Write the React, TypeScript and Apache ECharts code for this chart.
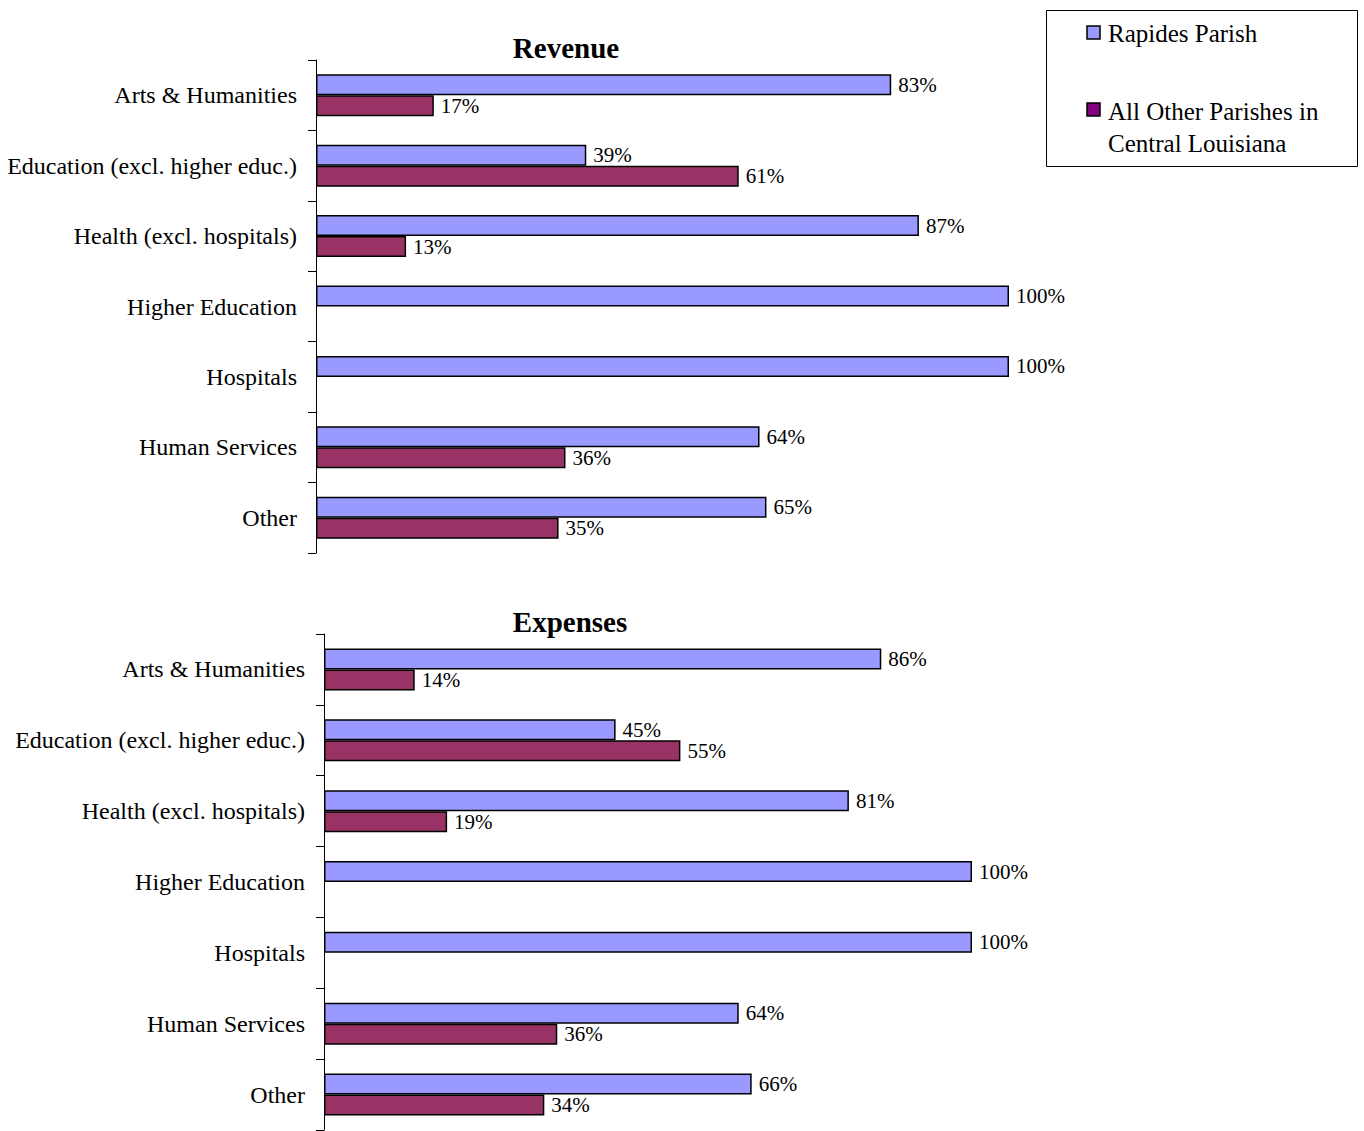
import React, { useEffect, useRef } from "react";
import * as echarts from "echarts";

const categories = [
  "Arts & Humanities",
  "Education (excl. higher educ.)",
  "Health (excl. hospitals)",
  "Higher Education",
  "Hospitals",
  "Human Services",
  "Other",
];
const revenueRapides = [83, 39, 87, 100, 100, 64, 65];
const revenueOther: (number | string)[] = [17, 61, 13, "-", "-", 36, 35];
const expensesRapides = [86, 45, 81, 100, 100, 64, 66];
const expensesOther: (number | string)[] = [14, 55, 19, "-", "-", 36, 34];
const seriesNames = ["Rapides Parish", "All Other Parishes in Central Louisiana"];
const titles = ["Revenue", "Expenses"];

const FONT = "Liberation Serif";
const BLUE = "#9999FF";
const RED = "#993366";
const LEGEND_RED = "#800080";

export default function App() {
  const ref = useRef<HTMLDivElement>(null);
  useEffect(() => {
    if (!ref.current) return;
    const chart = echarts.init(ref.current, null, { renderer: "svg" });
    const yAxisBase = (gridIndex: number) => ({
      type: "category" as const,
      gridIndex,
      data: categories,
      inverse: true,
      axisLine: { show: true, lineStyle: { color: "#000", width: 1 } },
      axisTick: { show: true, length: 8, lineStyle: { color: "#000", width: 1 } },
      axisLabel: { color: "#000", fontFamily: FONT, fontSize: 24, margin: 19 },
    });
    const xAxisBase = (gridIndex: number) => ({
      type: "value" as const,
      gridIndex,
      min: 0,
      max: 100,
      show: false,
    });
    const label = {
      show: true,
      position: "right" as const,
      distance: 7,
      formatter: "{c}%",
      color: "#000",
      fontFamily: FONT,
      fontSize: 21,
    };
    const bar = (name: string, data: any[], idx: number, color: string) => ({
      name,
      type: "bar" as const,
      xAxisIndex: idx,
      yAxisIndex: idx,
      data,
      barWidth: 21,
      barGap: "0%",
      itemStyle: { color, borderColor: "#000", borderWidth: 1.5 },
      label,
    });
    const titleStyle = { fontFamily: FONT, fontSize: 29, fontWeight: "bold" as const, color: "#000" };
    chart.setOption({
      animation: false,
      title: [
        { text: titles[0], left: 561, top: 28, textAlign: "center", textStyle: titleStyle },
        { text: titles[1], left: 565, top: 602, textAlign: "center", textStyle: titleStyle },
      ],
      grid: [
        { left: 316, top: 60, width: 693, height: 493 },
        { left: 324, top: 634, width: 648, height: 496 },
      ],
      xAxis: [xAxisBase(0), xAxisBase(1)],
      yAxis: [yAxisBase(0), yAxisBase(1)],
      series: [
        bar(seriesNames[0], revenueRapides, 0, BLUE),
        bar(seriesNames[1], revenueOther, 0, RED),
        bar(seriesNames[0], expensesRapides, 1, BLUE),
        bar(seriesNames[1], expensesOther, 1, RED),
      ],
      graphic: [
        {
          type: "rect",
          shape: { x: 1046.5, y: 10.5, width: 311, height: 156 },
          style: { fill: "#fff", stroke: "#000", lineWidth: 1 },
        },
        {
          type: "rect",
          shape: { x: 1087, y: 26, width: 13, height: 13 },
          style: { fill: BLUE, stroke: "#000", lineWidth: 1.5 },
        },
        {
          type: "text",
          x: 1108,
          y: 33,
          style: { text: seriesNames[0], fontFamily: FONT, fontSize: 25, fill: "#000", verticalAlign: "middle" },
        },
        {
          type: "rect",
          shape: { x: 1087, y: 103, width: 13, height: 13 },
          style: { fill: LEGEND_RED, stroke: "#000", lineWidth: 1.5 },
        },
        {
          type: "text",
          x: 1108,
          y: 111,
          style: { text: "All Other Parishes in", fontFamily: FONT, fontSize: 25, fill: "#000", verticalAlign: "middle" },
        },
        {
          type: "text",
          x: 1108,
          y: 143,
          style: { text: "Central Louisiana", fontFamily: FONT, fontSize: 25, fill: "#000", verticalAlign: "middle" },
        },
      ],
    });
    return () => chart.dispose();
  }, []);
  return (
    <div
      ref={ref}
      style={{ position: "absolute", left: 0, top: 0, width: 1364, height: 1131, background: "#fff" }}
    />
  );
}
